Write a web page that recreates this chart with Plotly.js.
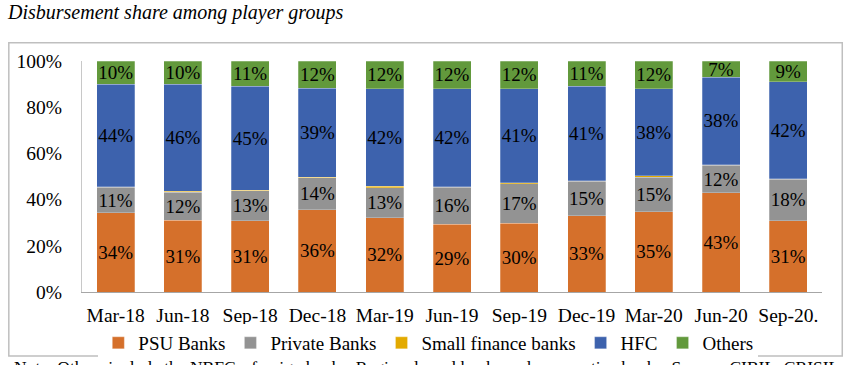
<!DOCTYPE html>
<html>
<head>
<meta charset="utf-8">
<script src="https://cdn.plot.ly/plotly-3.0.1.min.js"></script>
<style>html,body{margin:0;padding:0;background:#fff;}#chart{width:851px;height:365px;}</style>
</head>
<body>
<div id="chart"></div>
<script>
const categories = ['Mar-18','Jun-18','Sep-18','Dec-18','Mar-19','Jun-19','Sep-19','Dec-19','Mar-20','Jun-20','Sep-20.'];
const psuBanks      = [34, 31, 31, 36, 32, 29, 30, 33, 35, 43, 31];
const privateBanks  = [11, 12, 13, 14, 13, 16, 17, 15, 15, 12, 18];
const smallFinance  = [0.2, 0.5, 0.2, 0.2, 0.5, 0.2, 0.5, 0.2, 0.5, 0.2, 0.2];
const hfc           = [44, 46, 45, 39, 42, 42, 41, 41, 38, 38, 42];
const others        = [10, 10, 11, 12, 12, 12, 12, 11, 12, 7, 9];
const yTicks = [0, 20, 40, 60, 80, 100];
const yTickText = ['0%', '20%', '40%', '60%', '80%', '100%'];

const FONT = 'Liberation Serif, Times New Roman, serif';
function series(name, vals, color, showText) {
  return {
    type: 'bar', name: name, x: categories, y: vals,
    marker: {color: color, line: {color: 'rgba(255,255,255,0.5)', width: 0.5}},
    text: showText ? vals.map(v => v + '%') : undefined,
    textposition: showText ? 'inside' : 'none',
    insidetextanchor: 'middle',
    textangle: 0,
    constraintext: 'none',
    textfont: {family: FONT, size: 19, color: '#000'},
    hoverinfo: 'name+y'
  };
}
const data = [
  series('PSU Banks', psuBanks, '#D5702B', true),
  series('Private Banks', privateBanks, '#939393', true),
  series('Small finance banks', smallFinance, '#E3AA00', false),
  series('HFC', hfc, '#3D62AD', true),
  series('Others', others, '#62993C', true)
];
const layout = {
  width: 851, height: 365,
  margin: {l: 82, r: 29, t: 61, b: 73},
  barmode: 'stack', barnorm: 'percent',
  bargap: 0.435,
  paper_bgcolor: '#fff', plot_bgcolor: '#fff',
  font: {family: FONT, size: 19, color: '#000'},
  title: {text: 'Disbursement share among player groups', font: {family: FONT, size: 20, style: 'italic', color: '#000'},
          xref: 'container', x: 8/851, xanchor: 'left', yref: 'container', y: 1 - 12/365, yanchor: 'middle'},
  xaxis: {showgrid: false, showline: true, linecolor: '#A6A6A6', linewidth: 1, ticks: '', zeroline: false,
          tickfont: {family: FONT, size: 19.5, color: '#000'}, ticklabelstandoff: 6, fixedrange: true},
  yaxis: {range: [0, 100], tickvals: yTicks, ticktext: yTickText, showgrid: false, showline: true,
          linecolor: '#C8C8C8', linewidth: 1, ticks: '', zeroline: false,
          tickfont: {family: FONT, size: 19.5, color: '#000'}, ticklabelstandoff: 15, fixedrange: true},
  legend: {orientation: 'h', x: 0.468, xanchor: 'center', yref: 'container', y: 1 - 343/365, yanchor: 'middle',
           font: {family: FONT, size: 19, color: '#000'}, traceorder: 'normal', itemclick: false},
  showlegend: true,
  shapes: [{type: 'rect', xref: 'paper', yref: 'paper', x0: -0.0989, x1: 1.0274, y0: -0.2767, y1: 1.0787,
            line: {color: '#BFBFBF', width: 1.5}, fillcolor: 'rgba(0,0,0,0)', layer: 'above'}],
  annotations: [{text: 'Note: Others include the NBFCs, foreign banks, Regional rural banks and cooperative banks; Source: CIBIL, CRISIL',
                 xref: 'paper', yref: 'paper', x: (12 - 82) / 740, xanchor: 'left', y: (292 - 355) / 231, yanchor: 'top',
                 showarrow: false, font: {family: FONT, size: 17.5, color: '#000'}}]
};
Plotly.newPlot('chart', data, layout, {displayModeBar: false, staticPlot: true});
</script>
</body>
</html>
